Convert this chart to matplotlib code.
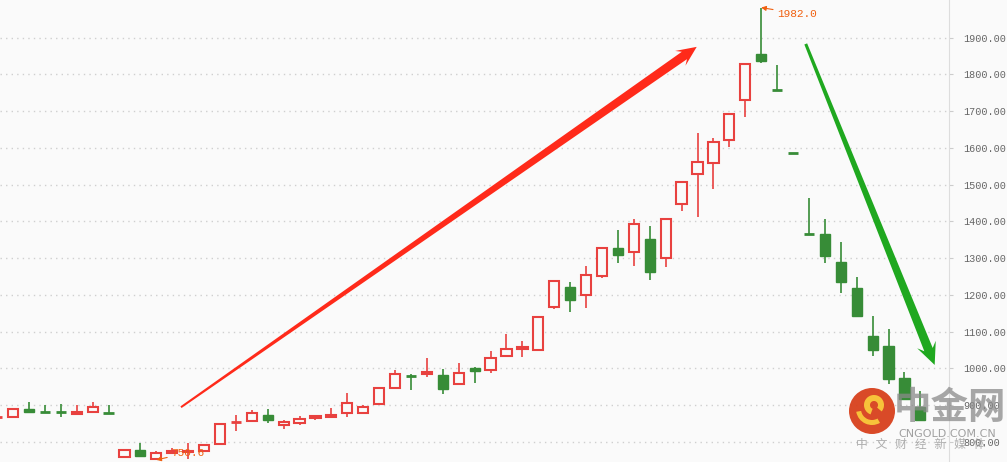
import matplotlib
matplotlib.use("Agg")
import matplotlib.pyplot as plt
import numpy as np
from matplotlib.patches import Polygon, Circle, Wedge
from matplotlib.transforms import IdentityTransform

# daily OHLC (oldest first)
opens = [865, 866.5, 888, 881, 881, 876, 882, 878, 759, 777, 752, 769, 772, 776, 793, 852,
         857, 873, 846, 852, 864.6, 868, 877, 877, 902, 945.5, 980, 985, 982, 956, 1000,
         994.5, 1033, 1052, 1049, 1166, 1220, 1200, 1250, 1327, 1317, 1351, 1299, 1446,
         1528, 1560, 1621, 1730, 1856, 1758, 1586, 1365, 1365, 1289, 1218, 1088, 1061, 973, 895]
highs = [868, 889, 908, 900, 903, 900, 908, 901, 779, 796, 775, 783, 797, 791, 848, 872,
         886, 889, 859, 870, 873, 891, 933.5, 900, 949, 996, 984, 1028, 998, 1014, 1004,
         1047, 1093, 1074, 1140, 1238, 1235, 1278, 1330, 1376, 1406, 1387, 1406, 1506,
         1640, 1628, 1692, 1828, 1982, 1825, 1586, 1463, 1406, 1344, 1248, 1142, 1106, 989, 938]
lows = [864, 866, 881, 878, 868, 873, 881, 876, 757, 759, 750.6, 767, 752, 775, 792, 830,
        855, 852, 835, 846, 859, 864, 868, 876, 901, 945, 942, 977, 931, 955, 961,
        988, 1030, 1031, 1048, 1162, 1154, 1165, 1247, 1287, 1279, 1240, 1276, 1429,
        1413, 1489, 1603, 1685, 1832, 1756, 1585, 1363, 1286, 1206, 1142, 1034, 958, 913, 858]
closes = [867, 888, 882, 880, 880, 881, 894, 877, 778, 762, 768.5, 775, 776, 790, 847, 853.5,
          877, 859, 853, 861, 869, 872, 905, 894, 945.5, 983.6, 979, 990, 944, 986, 993,
          1027, 1052, 1058, 1139, 1237, 1187, 1253, 1327, 1309, 1392, 1263, 1406, 1506,
          1561, 1615, 1691, 1828, 1837, 1757, 1585, 1364, 1306, 1236, 1143, 1050, 972, 917, 859]

yticks = [800, 900, 1000, 1100, 1200, 1300, 1400, 1500, 1600, 1700, 1800, 1900]

up_color = "#e8413f"
down_color = "#378c37"
bg = "#fafafa"

fig = plt.figure(figsize=(10.07, 4.62), dpi=100, facecolor=bg)
ax = fig.add_axes([0, 0, 949 / 1007, 1], facecolor=bg)

x = np.arange(len(opens)) - 1
o = np.array(opens)
c = np.array(closes)
h = np.array(highs)
l = np.array(lows)
up = c >= o
cols = np.where(up, up_color, down_color)
w = 0.64

ax.vlines(x, l, h, colors=cols, linewidth=1.2, zorder=2)
for xi, oi, ci, col, u in zip(x, o, c, cols, up):
    if abs(ci - oi) < 2.5:
        ax.hlines((oi + ci) / 2, xi - w / 2, xi + w / 2, colors=col, linewidth=2, zorder=3)
    elif u:
        ax.bar(xi, ci - oi, w, bottom=oi, facecolor=bg, edgecolor=col, linewidth=1.5, zorder=3)
    else:
        ax.bar(xi, oi - ci, w, bottom=ci, facecolor=col, edgecolor=col, linewidth=1, zorder=3)

ax.set_xlim(-0.82, 58.8)
ax.set_ylim(744.8, 2002.6)

# grid and right axis
ax.set_yticks(yticks)
ax.yaxis.grid(True, color="#cfcfcf", linestyle=(0, (1, 3)), linewidth=1)
ax.set_axisbelow(True)
ax.set_xticks([])
ax.yaxis.tick_right()
ax.tick_params(axis="y", length=3, color="#cccccc", pad=7, labelsize=7.3, labelcolor="#666666")
ax.set_yticklabels(["%.2f" % t for t in yticks], family="Liberation Mono")
for s in ["left", "top", "bottom"]:
    ax.spines[s].set_visible(False)
ax.spines["right"].set_color("#dddddd")

# max / min annotations
imax = int(np.argmax(h))
imin = int(np.argmin(l))
ax.annotate("%.1f" % h[imax], xy=(x[imax], h[imax]), xytext=(16, -6), textcoords="offset pixels",
            color="#f06010", fontsize=8, family="Liberation Mono", va="center", ha="left", zorder=8,
            arrowprops=dict(arrowstyle="-|>", color="#f06010", lw=0.8, mutation_scale=7,
                            shrinkA=1, shrinkB=0))
ax.annotate("%.1f" % l[imin], xy=(x[imin], l[imin]), xytext=(15, 7), textcoords="offset pixels",
            color="#f06010", fontsize=8, family="Liberation Mono", va="center", ha="left", zorder=8,
            arrowprops=dict(arrowstyle="-|>", color="#f06010", lw=0.8, mutation_scale=7,
                            shrinkA=1, shrinkB=0))


def taper_arrow(p0, p1, a0, a1, head_w, head_l, color):
    t = ax.transData
    q0 = np.array(t.transform(p0))
    q1 = np.array(t.transform(p1))
    u = (q1 - q0) / np.linalg.norm(q1 - q0)
    n = np.array([-u[1], u[0]])
    base = q1 - u * head_l
    neck = q1 - u * head_l * 0.75
    pts = [q0 + n * a0, neck + n * a1, base + n * head_w, q1,
           base - n * head_w, neck - n * a1, q0 - n * a0]
    ax.add_patch(Polygon(pts, closed=True, facecolor=color, edgecolor="none",
                         transform=IdentityTransform(), zorder=5))


# trend arrows (index, price)
red_arrow = [(10.55, 894), (42.95, 1875)]
green_arrow = [(49.8, 1883), (57.9, 1009)]
taper_arrow(red_arrow[0], red_arrow[1], 1.0, 4.5, 9, 20, "#ff2a1a")
taper_arrow(green_arrow[0], green_arrow[1], 1.5, 4.5, 10, 22, "#1fa81f")

# watermark, drawn in pixel coordinates
W, H = 1007, 462
px = IdentityTransform()
fig.patches.append(Circle((872, H - 411), 23, transform=px,
                          facecolor="#d8401c", edgecolor="none", alpha=0.95, zorder=6))
fig.patches.append(Wedge((874, H - 405), 10, -40, 250, width=6, transform=px,
                         facecolor="#f7c23a", edgecolor="none", zorder=7))
fig.patches.append(Wedge((872, H - 409), 16, 190, 300, width=5, transform=px,
                         facecolor="#f7c23a", edgecolor="none", zorder=7))
fig.text(950 / W, 1 - 408 / H, "中金网", fontsize=27, fontweight="bold", color="#8a8a8a", alpha=0.75,
         family=["Noto Sans CJK SC", "DejaVu Sans"], ha="center", va="center", zorder=7)
fig.text(947 / W, 1 - 434 / H, "CNGOLD.COM.CN", fontsize=8, color="#8a8a8a", alpha=0.8,
         ha="center", va="center", zorder=7)
fig.text(921 / W, 1 - 444 / H, "中   文   财   经   新   媒   体", fontsize=8.5, color="#9a9a9a", alpha=0.8,
         family=["Noto Sans CJK SC", "DejaVu Sans"], ha="center", va="center", zorder=7)

fig.savefig("out.png", dpi=100, facecolor=bg)
